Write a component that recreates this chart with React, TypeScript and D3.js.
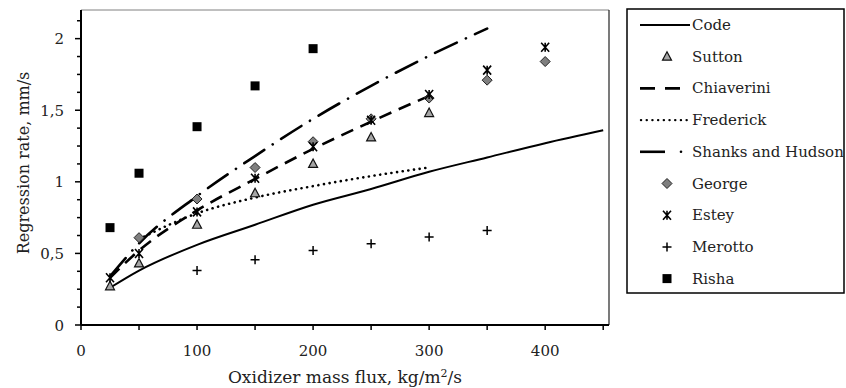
import React from 'react';
import * as d3 from 'd3';

// mass flux, kg/m2/s
const codeX = [25, 50, 100, 150, 200, 250, 300, 350, 400, 450];
const codeY = [0.26, 0.38, 0.56, 0.70, 0.84, 0.95, 1.07, 1.17, 1.27, 1.36];

const chiaveriniX = [25, 50, 100, 150, 200, 250, 300];
const chiaveriniY = [0.33, 0.52, 0.80, 1.02, 1.23, 1.42, 1.60];

const frederickX = [50, 100, 150, 200, 250, 300];
const frederickY = [0.60, 0.78, 0.89, 0.97, 1.04, 1.10];

const shanksX = [25, 50, 100, 150, 200, 250, 300, 350];
const shanksY = [0.34, 0.57, 0.90, 1.18, 1.44, 1.67, 1.88, 2.07];

const suttonX = [25, 50, 100, 150, 200, 250, 300];
const suttonY = [0.27, 0.43, 0.70, 0.92, 1.125, 1.31, 1.48];

const georgeX = [50, 100, 150, 200, 250, 300, 350, 400];
const georgeY = [0.61, 0.88, 1.10, 1.28, 1.44, 1.585, 1.71, 1.84];

const esteyX = [25, 50, 100, 150, 200, 250, 300, 350, 400];
const esteyY = [0.33, 0.50, 0.79, 1.025, 1.245, 1.43, 1.61, 1.78, 1.94];

const merottoX = [100, 150, 200, 250, 300, 350];
const merottoY = [0.38, 0.455, 0.52, 0.567, 0.615, 0.66];

const rishaX = [25, 50, 100, 150, 200];
const rishaY = [0.68, 1.06, 1.385, 1.67, 1.93];

const xTicks = [0, 100, 200, 300, 400];
const yTicks = [0, 0.5, 1, 1.5, 2];
const legendNames = ['Code', 'Sutton', 'Chiaverini', 'Frederick', 'Shanks and Hudson', 'George', 'Estey', 'Merotto', 'Risha'];

const font = '"DejaVu Serif", serif';
const left = 81, right = 609, top = 10, bottom = 325;

const zip = (xs: number[], ys: number[]) => xs.map((x, i) => [x, ys[i]] as [number, number]);

const Marker = ({ kind, cx, cy }: { kind: string; cx: number; cy: number }) => {
  if (kind === 'triangle') {
    return <path d={`M${cx},${cy - 5}L${cx + 4.5},${cy + 3.5}L${cx - 4.5},${cy + 3.5}Z`} fill="#a6a6a6" stroke="#111" strokeWidth={1.2} />;
  }
  if (kind === 'diamond') {
    return <path d={`M${cx},${cy - 5}L${cx + 5},${cy}L${cx},${cy + 5}L${cx - 5},${cy}Z`} fill="#7f7f7f" stroke="#222" strokeWidth={1} />;
  }
  if (kind === 'star') {
    return <path d={`M${cx - 4},${cy - 4.5}L${cx + 4},${cy + 4.5}M${cx + 4},${cy - 4.5}L${cx - 4},${cy + 4.5}M${cx},${cy - 4.5}L${cx},${cy + 4.5}`} fill="none" stroke="#000" strokeWidth={1.6} />;
  }
  if (kind === 'plus') {
    return <path d={`M${cx - 4.5},${cy}L${cx + 4.5},${cy}M${cx},${cy - 4.5}L${cx},${cy + 4.5}`} stroke="#000" strokeWidth={1.5} />;
  }
  return <rect x={cx - 4.5} y={cy - 4.5} width={9} height={9} fill="#000" />;
};

export default function App() {
  const x = d3.scaleLinear().domain([0, 455]).range([left, right]);
  const y = d3.scaleLinear().domain([0, 2.2]).range([bottom, top]);
  const line = d3.line<[number, number]>().x(d => x(d[0])).y(d => y(d[1])).curve(d3.curveMonotoneX);

  const xMinor = d3.range(0, 451, 50);
  const yMinor = d3.range(0, 2.2, 0.125);

  const lines = [
    { d: line(zip(codeX, codeY)), dash: undefined, w: 2, cap: 'butt' },
    { d: line(zip(chiaveriniX, chiaveriniY)), dash: '13 8', w: 2.6, cap: 'butt' },
    { d: line(zip(frederickX, frederickY)), dash: '0.1 5.6', w: 2.6, cap: 'round' },
    { d: line(zip(shanksX, shanksY)), dash: '24 10 0.1 10', w: 2.6, cap: 'round' },
  ];

  const points = [
    { kind: 'triangle', data: zip(suttonX, suttonY) },
    { kind: 'diamond', data: zip(georgeX, georgeY) },
    { kind: 'star', data: zip(esteyX, esteyY) },
    { kind: 'plus', data: zip(merottoX, merottoY) },
    { kind: 'square', data: zip(rishaX, rishaY) },
  ];

  const legendKinds = ['solid', 'triangle', 'dash', 'dot', 'dashdot', 'diamond', 'star', 'plus', 'square'];
  const ly = (i: number) => 25 + i * 31.7;

  return (
    <svg width={846} height={388} style={{ position: 'absolute', left: 0, top: 0, background: '#fff' }} fontFamily={font}>
      {/* plot frame */}
      <line x1={left} x2={right} y1={top} y2={top} stroke="#808080" strokeWidth={1} />
      <line x1={right} x2={right} y1={top} y2={bottom} stroke="#222" strokeWidth={1.2} />

      {lines.map((l, i) => (
        <path key={i} d={l.d || ''} fill="none" stroke="#000" strokeWidth={l.w} strokeDasharray={l.dash}
          strokeLinecap={l.cap as any} />
      ))}

      {points.map(p => p.data.map((d, i) => (
        <Marker key={p.kind + i} kind={p.kind} cx={x(d[0])} cy={y(d[1])} />
      )))}

      {/* axes */}
      <line x1={left} x2={right} y1={bottom} y2={bottom} stroke="#000" strokeWidth={2} />
      <line x1={left} x2={left} y1={top} y2={bottom} stroke="#000" strokeWidth={2} />
      {xMinor.map(t => (
        <line key={'xt' + t} x1={x(t)} x2={x(t)} y1={bottom} y2={bottom + 5} stroke="#000" strokeWidth={1.5} />
      ))}
      {yMinor.map(t => (
        <line key={'yt' + t} x1={left - (yTicks.includes(t) ? 6 : 4)} x2={left} y1={y(t)} y2={y(t)} stroke="#000" strokeWidth={1.5} />
      ))}
      {xTicks.map(t => (
        <text key={'xl' + t} x={x(t)} y={356} textAnchor="middle" fontSize={15} fill="#222">{t}</text>
      ))}
      {yTicks.map(t => (
        <text key={'yl' + t} x={left - 17} y={y(t) + 5.5} textAnchor="end" fontSize={15} fill="#222">{String(t).replace('.', ',')}</text>
      ))}
      <text x={(left + right) / 2} y={383} textAnchor="middle" fontSize={17} fill="#222">
        Oxidizer mass flux, kg/m<tspan fontSize={11} dy={-6}>2</tspan><tspan dy={6}>/s</tspan>
      </text>
      <text transform={`translate(29,163) rotate(-90)`} textAnchor="middle" fontSize={16} fill="#222">
        Regression rate, mm/s
      </text>

      {/* legend */}
      <rect x={627} y={9} width={217} height={284} fill="#fff" stroke="#000" strokeWidth={1.5} />
      {legendNames.map((n, i) => {
        const k = legendKinds[i];
        const cy = ly(i);
        let sample: React.ReactNode = null;
        if (k === 'solid') sample = <line x1={640} x2={690} y1={cy} y2={cy} stroke="#000" strokeWidth={2} />;
        else if (k === 'dash') sample = <line x1={640} x2={682} y1={cy} y2={cy} stroke="#000" strokeWidth={2.6} strokeDasharray="15 10" />;
        else if (k === 'dot') sample = <line x1={641} x2={690} y1={cy} y2={cy} stroke="#000" strokeWidth={2.4} strokeDasharray="0.1 5.6" strokeLinecap="round" />;
        else if (k === 'dashdot') sample = (
          <g>
            <line x1={640} x2={665} y1={cy} y2={cy} stroke="#000" strokeWidth={2.6} />
            <circle cx={681} cy={cy} r={1.3} fill="#000" />
          </g>
        );
        else sample = <Marker kind={k} cx={667} cy={cy} />;
        return (
          <g key={n}>
            {sample}
            <text x={692} y={cy + 5} fontSize={15} fill="#222">{n}</text>
          </g>
        );
      })}
    </svg>
  );
}
